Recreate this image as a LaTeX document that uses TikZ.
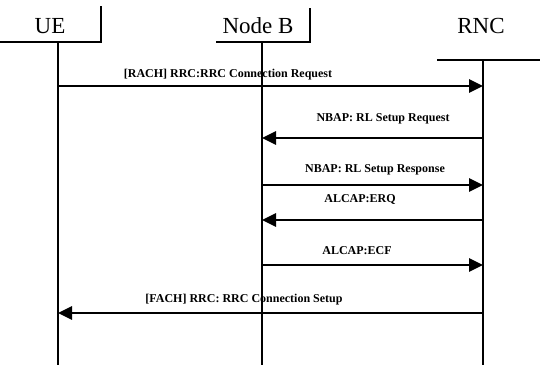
\documentclass[tikz,border=0pt]{standalone}
\usepackage{fontspec}
\setmainfont{Liberation Serif}
\usetikzlibrary{arrows.meta}
\begin{document}
\begin{tikzpicture}[x=1pt,y=-1pt,
  head/.style={font=\fontsize{23}{25}\selectfont, inner sep=0pt},
  frame/.style={line width=1.4pt},
  life/.style={line width=2.5pt},
  msg/.style={line width=2.8pt, -{Triangle[length=14pt,width=13pt]}},
  lbl/.style={font=\bfseries\fontsize{12}{14}\selectfont, inner sep=0pt, anchor=base}]
\useasboundingbox (0,0) rectangle (540,365);

% entity headers
\node[head] (ue)  at (50,26)  {UE};
\node[head] (nb)  at (258,26) {Node B};
\node[head] (rnc) at (481,26) {RNC};
\draw[frame] (0,42) -- (101,42) -- (101,6);
\draw[frame] (216,42) -- (310,42) -- (310,8);
\draw[frame] (437,60) -- (540,60);

% lifeline ends
\coordinate (ueT)  at (58,42);  \coordinate (ueB)  at (58,365);
\coordinate (nbT)  at (262,42); \coordinate (nbB)  at (262,365);
\coordinate (rncT) at (483,60); \coordinate (rncB) at (483,365);

% message anchor points on the lifelines
\coordinate (m1a) at (58,86);   \coordinate (m1b) at (483,86);
\coordinate (m2a) at (483,138); \coordinate (m2b) at (262,138);
\coordinate (m3a) at (262,185); \coordinate (m3b) at (483,185);
\coordinate (m4a) at (483,220); \coordinate (m4b) at (262,220);
\coordinate (m5a) at (262,265); \coordinate (m5b) at (483,265);
\coordinate (m6a) at (483,313); \coordinate (m6b) at (58,313);

% message labels
\node[lbl] (l1) at (228,77)  {[RACH] RRC:RRC Connection Request};
\node[lbl] (l2) at (383,121) {NBAP: RL Setup Request};
\node[lbl] (l3) at (375,172) {NBAP: RL Setup Response};
\node[lbl] (l4) at (360,202) {ALCAP:ERQ};
\node[lbl] (l5) at (357,254) {ALCAP:ECF};
\node[lbl] (l6) at (244,302) {[FACH] RRC: RRC Connection Setup};

% lifelines
\draw[life] (ueT) -- (ueB);
\draw[life] (nbT) -- (nbB);
\draw[life] (rncT) -- (rncB);

% messages
\draw[msg] (m1a) -- (m1b);
\draw[msg] (m2a) -- (m2b);
\draw[msg] (m3a) -- (m3b);
\draw[msg] (m4a) -- (m4b);
\draw[msg] (m5a) -- (m5b);
\draw[msg] (m6a) -- (m6b);
\end{tikzpicture}
\end{document}
